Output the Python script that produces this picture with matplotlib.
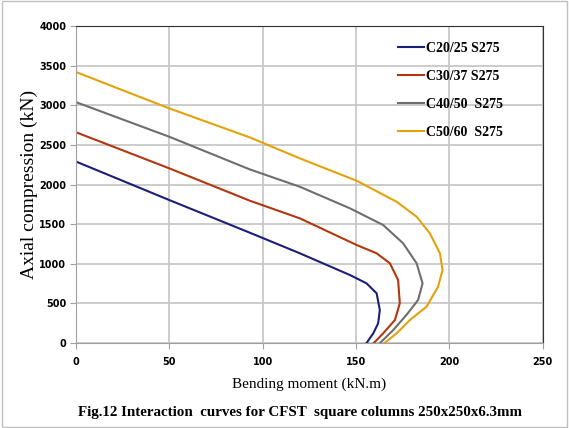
import matplotlib.pyplot as plt
from matplotlib.patches import Rectangle

# interaction curves (bending moment kN.m, axial kN)
m_c20 = [0, 50, 93.1, 119.9, 146.7, 155.6, 161, 162.7, 161.8, 159.2, 155.6]
n_c20 = [2290, 1804, 1392, 1132, 858, 753, 627, 416, 248, 122, 0]

m_c30 = [0, 50, 93.1, 119.9, 150.3, 161, 168.1, 172.5, 173.4, 170.8, 164.5, 159.5]
n_c30 = [2660, 2204, 1796, 1573, 1237, 1132, 1006, 795, 501, 290, 122, 0]

m_c40 = [0, 50, 93.1, 119.9, 146.7, 164.5, 175.2, 182.4, 185.6, 183.2, 176.9, 169.9, 162.8]
n_c40 = [3040, 2603, 2191, 1972, 1700, 1489, 1258, 1006, 753, 543, 353, 164, 0]

m_c50 = [0, 50, 93.1, 119.9, 150.3, 171.7, 182.4, 189.5, 194.9, 196.3, 193.9, 187.7,
         178.8, 171.7, 165.2]
n_c50 = [3420, 2961, 2595, 2330, 2048, 1783, 1594, 1384, 1132, 921, 711, 458,
         290, 122, 0]

labels = ['C20/25 S275', 'C30/37 S275', 'C40/50  S275', 'C50/60  S275']
colors = ['#1b1f78', '#b3360f', '#6e6e6e', '#e3a20a']

fig = plt.figure(figsize=(5.69, 4.28), dpi=100)
ax = fig.add_axes([0.1336, 0.1986, 0.8204, 0.7404])

for m, n, lab, c in zip([m_c20, m_c30, m_c40, m_c50],
                        [n_c20, n_c30, n_c40, n_c50], labels, colors):
    ax.plot(m, n, color=c, lw=1.5, label=lab, solid_joinstyle='round')

ax.set_xlim(0, 250)
ax.set_ylim(0, 4000)
ax.set_xticks(range(0, 251, 50))
ax.set_yticks(range(0, 4001, 500))
ax.grid(color='#c8c8c8', lw=1.3)
ax.set_axisbelow(True)
for s in ['left', 'bottom']:
    ax.spines[s].set_color('#a0a0a0')
for s in ['top', 'right']:
    ax.spines[s].set_color('#303030')
ax.tick_params(length=4, color='#a0a0a0', labelsize=7)
ax.tick_params(axis='x', pad=6)
ax.tick_params(axis='y', pad=3)
for t in ax.get_xticklabels() + ax.get_yticklabels():
    t.set_fontweight('bold')
ax.set_xlabel('Bending moment (kN.m)', family='Liberation Serif', fontsize=11, labelpad=8)
ax.set_ylabel('Axial compression (kN)', family='Liberation Serif', fontsize=14, labelpad=1)

leg = ax.legend(loc='upper right', bbox_to_anchor=(0.942, 0.99), frameon=False,
                prop={'family': 'Liberation Serif', 'weight': 'bold', 'size': 10},
                handlelength=1.9, labelspacing=1.08, handletextpad=0.15)
for l in leg.get_lines():
    l.set_linewidth(1.5)

fig.text(0.527, 0.028, 'Fig.12 Interaction  curves for CFST  square columns 250x250x6.3mm',
         ha='center', family='Liberation Serif', weight='bold', fontsize=10.8)

fig.patches.append(Rectangle((0.003, 0.003), 0.994, 0.994, transform=fig.transFigure,
                             fill=False, ec='#c0c0c0', lw=1))

fig.savefig('out.png', dpi=100)
